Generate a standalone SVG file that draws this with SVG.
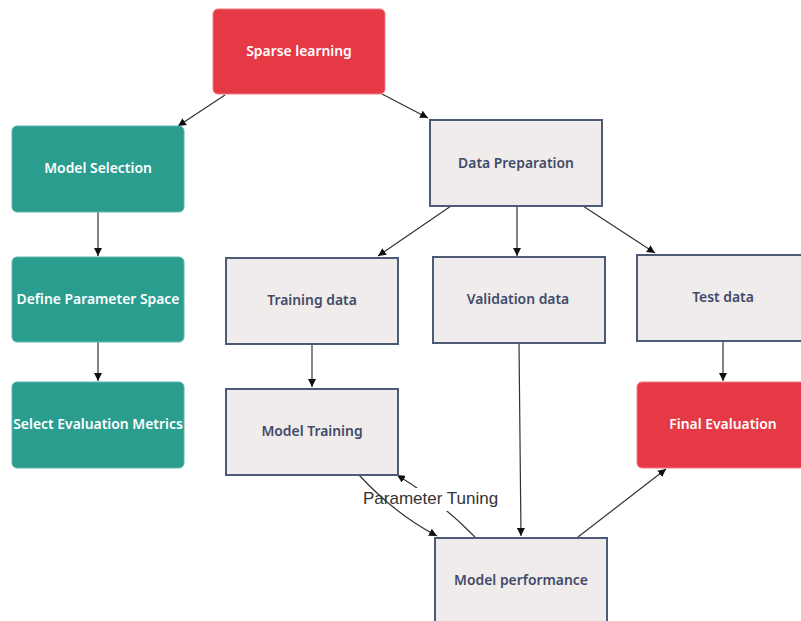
<svg xmlns="http://www.w3.org/2000/svg" width="801" height="621" viewBox="0 0 801 621">
  <style>
    .red { fill: #e63946; stroke: #f07a83; stroke-width: 1; }
    .teal { fill: #2a9d8f; stroke: #5fb8ad; stroke-width: 1; }
    .gray { fill: #f0eceb; stroke: #4d5b78; stroke-width: 2; }
    .lbl { font-family: "Noto Sans", "Open Sans", sans-serif; font-weight: 600; font-size: 13.9px; text-anchor: middle; dominant-baseline: central; }
    .light { fill: #ffffff; }
    .dark { fill: #3f4b69; }
    .edge { fill: none; stroke: #333333; stroke-width: 1.2; marker-end: url(#arrow); }
    .elbl { font-family: "Liberation Sans", Arial, sans-serif; font-size: 17px; fill: #333333; }
  </style>
  <defs>
    <marker id="arrow" viewBox="0 0 10 10" refX="10" refY="5" markerWidth="8" markerHeight="8" markerUnits="userSpaceOnUse" orient="auto">
      <path d="M0,0 L10,5 L0,10 z" fill="#111111"/>
    </marker>
    <mask id="tuneGap" maskUnits="userSpaceOnUse" x="0" y="0" width="801" height="621">
      <rect x="0" y="0" width="801" height="621" fill="#fff"/>
      <rect x="400" y="488" width="60" height="23" fill="#000"/>
    </mask>
  </defs>

  <g id="connectors">
    <line class="edge" x1="225" y1="95" x2="178" y2="126"/>
    <line class="edge" x1="382" y1="94" x2="428" y2="118"/>
    <line class="edge" x1="98" y1="212" x2="98" y2="256"/>
    <line class="edge" x1="98" y1="342" x2="98" y2="381"/>
    <line class="edge" x1="451" y1="206" x2="378" y2="256"/>
    <line class="edge" x1="517" y1="206" x2="517" y2="256"/>
    <line class="edge" x1="583" y1="206" x2="655" y2="253"/>
    <line class="edge" x1="312" y1="344" x2="312" y2="387"/>
    <line class="edge" x1="723" y1="341" x2="723" y2="381"/>
    <line class="edge" x1="519" y1="343" x2="521" y2="536"/>
    <line class="edge" x1="578" y1="537" x2="666" y2="469"/>
    <path class="edge" d="M359,475 Q395,514 437,536"/>
    <path class="edge" d="M475,537 Q441,502 397,475" mask="url(#tuneGap)"/>
    <text class="elbl" x="363" y="504">Parameter Tuning</text>
  </g>

  <g id="sparse-learning">
    <rect class="red" x="213" y="9" width="172" height="85" rx="5"/>
    <text class="lbl light" x="299" y="50">Sparse learning</text>
  </g>
  <g id="model-selection">
    <rect class="teal" x="12" y="126" width="172" height="86" rx="5"/>
    <text class="lbl light" x="98" y="167">Model Selection</text>
  </g>
  <g id="define-parameter-space">
    <rect class="teal" x="12" y="257" width="172" height="85" rx="5"/>
    <text class="lbl light" x="98" y="298">Define Parameter Space</text>
  </g>
  <g id="select-evaluation-metrics">
    <rect class="teal" x="12" y="382" width="172" height="86" rx="5"/>
    <text class="lbl light" x="98" y="423">Select Evaluation Metrics</text>
  </g>
  <g id="data-preparation">
    <rect class="gray" x="430" y="120" width="172" height="86"/>
    <text class="lbl dark" x="516" y="162">Data Preparation</text>
  </g>
  <g id="training-data">
    <rect class="gray" x="226" y="258" width="172" height="86"/>
    <text class="lbl dark" x="312" y="299">Training data</text>
  </g>
  <g id="validation-data">
    <rect class="gray" x="433" y="257" width="172" height="86"/>
    <text class="lbl dark" x="518" y="298">Validation data</text>
  </g>
  <g id="test-data">
    <rect class="gray" x="637" y="255" width="172" height="86"/>
    <text class="lbl dark" x="723" y="296">Test data</text>
  </g>
  <g id="model-training">
    <rect class="gray" x="226" y="389" width="172" height="86"/>
    <text class="lbl dark" x="312" y="430">Model Training</text>
  </g>
  <g id="final-evaluation">
    <rect class="red" x="637" y="382" width="172" height="86" rx="5"/>
    <text class="lbl light" x="723" y="423">Final Evaluation</text>
  </g>
  <g id="model-performance">
    <rect class="gray" x="435" y="538" width="172" height="86"/>
    <text class="lbl dark" x="521" y="579">Model performance</text>
  </g>
</svg>
